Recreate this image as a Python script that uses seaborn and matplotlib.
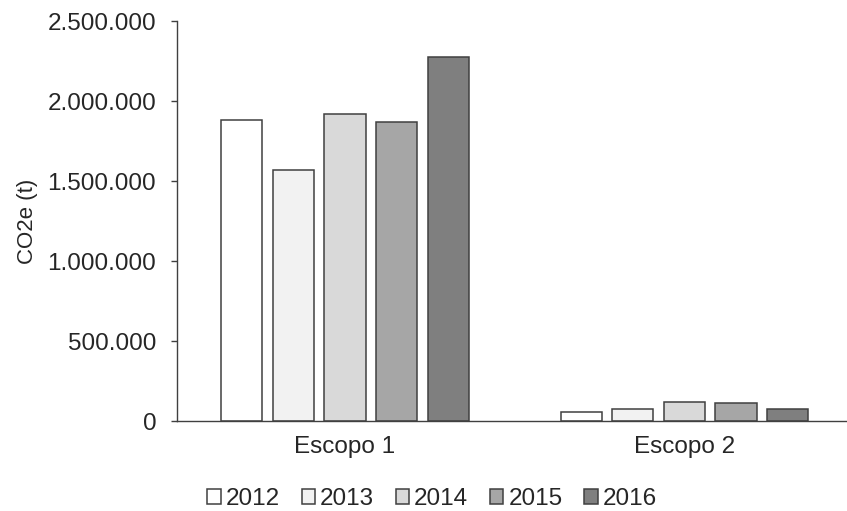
import matplotlib
matplotlib.use("Agg")
import matplotlib.pyplot as plt
from matplotlib.ticker import FuncFormatter
import pandas as pd
import seaborn as sns

# Emissions by scope and year (t CO2e)
scopes = ["Escopo 1", "Escopo 2"]
years = ["2012", "2013", "2014", "2015", "2016"]
escopo1 = [1881000, 1569000, 1919000, 1871000, 2275000]
escopo2 = [56000, 75000, 120000, 110000, 73000]
colors = ["#ffffff", "#f2f2f2", "#d9d9d9", "#a6a6a6", "#7f7f7f"]
yticks = [0, 500000, 1000000, 1500000, 2000000, 2500000]

df = pd.DataFrame({
    "escopo": [s for s in scopes for _ in years],
    "ano": years * len(scopes),
    "co2e": escopo1 + escopo2,
})

sns.set_theme(style="white")
plt.rcParams["font.family"] = ["Liberation Sans", "DejaVu Sans"]
text_color = "#262626"
line_color = "#404040"

fig = plt.figure(figsize=(8.47, 5.11), dpi=100)
ax = fig.add_axes([177 / 847, 90 / 511, 1 - 177 / 847, (421 - 21) / 511])

sns.barplot(
    data=df, x="escopo", y="co2e", hue="ano", hue_order=years,
    palette=dict(zip(years, colors)), width=0.76, gap=0.2,
    edgecolor=line_color, linewidth=1.1, ax=ax, legend=True,
)

ax.set_ylim(0, 2500000)
ax.set_xlim(-0.495, 1.479)
ax.set_yticks(yticks)
ax.yaxis.set_major_formatter(
    FuncFormatter(lambda v, _: f"{int(v):,}".replace(",", "."))
)
ax.set_xlabel("")
ax.set_ylabel("CO2e (t)", fontsize=16, color=text_color, labelpad=7)

for side in ("top", "right"):
    ax.spines[side].set_visible(False)
for side in ("left", "bottom"):
    ax.spines[side].set_color(line_color)
    ax.spines[side].set_linewidth(1.0)

ax.tick_params(axis="y", direction="out", length=4, width=1, color=line_color,
               labelsize=17.5, labelcolor=text_color, pad=11, left=True)
ax.tick_params(axis="x", length=0, labelsize=17.5, labelcolor=text_color, pad=11)

handles, labels = ax.get_legend_handles_labels()
ax.get_legend().remove()
fig.legend(
    handles, labels, loc="center", bbox_to_anchor=(432 / 847, 1 - 499 / 511),
    ncol=5, frameon=False, fontsize=17.5, handlelength=0.55, handleheight=0.55,
    handletextpad=0.2, columnspacing=0.9, labelcolor=text_color,
)

fig.savefig("out.png", dpi=100)
